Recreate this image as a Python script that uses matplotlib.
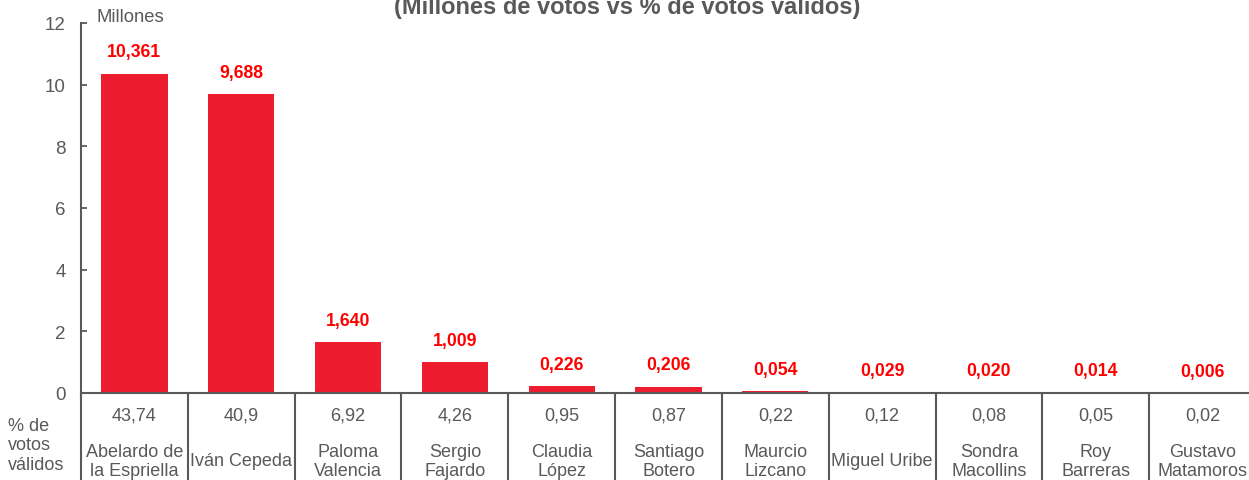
import numpy as np
import matplotlib.pyplot as plt
from matplotlib.transforms import blended_transform_factory

# Datos: votos (millones) y % de votos validos por candidato
candidatos = ["Abelardo de\nla Espriella", "Iván Cepeda", "Paloma\nValencia",
              "Sergio\nFajardo", "Claudia\nLópez", "Santiago\nBotero",
              "Maurcio\nLizcano", "Miguel Uribe", "Sondra\nMacollins",
              "Roy\nBarreras", "Gustavo\nMatamoros"]
votos = [10.361, 9.688, 1.640, 1.009, 0.226, 0.206, 0.054, 0.029, 0.020, 0.014, 0.006]
etiquetas_votos = ["10,361", "9,688", "1,640", "1,009", "0,226", "0,206",
                   "0,054", "0,029", "0,020", "0,014", "0,006"]
pct_validos = ["43,74", "40,9", "6,92", "4,26", "0,95", "0,87",
               "0,22", "0,12", "0,08", "0,05", "0,02"]

GRIS = "#595959"
ROJO = "#ED1C2E"

plt.rcParams["font.family"] = ["Liberation Sans", "DejaVu Sans"]

fig = plt.figure(figsize=(12.49, 4.81), dpi=100)
ax = fig.add_axes([81 / 1249, 1 - 394 / 481, (1256 - 81) / 1249, (394 - 24) / 481])

x = np.arange(len(votos))
ax.bar(x, votos, width=0.62, color=ROJO, zorder=2)

for xi, v, lab in zip(x, votos, etiquetas_votos):
    ax.annotate(lab, (xi, v), xytext=(0, 9.5), textcoords="offset points",
                ha="center", va="bottom", color="#FF0000",
                fontsize=12.7, fontweight="bold")

ax.set_xlim(-0.5, len(votos) - 0.5)
ax.set_ylim(0, 12)
ax.set_yticks(range(0, 13, 2))
ax.tick_params(axis="y", direction="in", length=4, width=1.3, color=GRIS,
               labelcolor=GRIS, labelsize=13.5, pad=11)

# separadores de la tabla inferior
ax.set_xticks(np.arange(len(votos) + 1) - 0.5)
ax.set_xticklabels([])
ax.tick_params(axis="x", direction="out", length=64, width=1.5, color=GRIS)

for s in ["top", "right"]:
    ax.spines[s].set_visible(False)
for s in ["left", "bottom"]:
    ax.spines[s].set_color(GRIS)
    ax.spines[s].set_linewidth(1.5)

tr = blended_transform_factory(ax.transData, fig.transFigure)
for xi, p, c in zip(x, pct_validos, candidatos):
    ax.text(xi, 1 - 416 / 481, p, transform=tr, ha="center", va="center",
            fontsize=13, color=GRIS)
    ax.text(xi, 1 - 462 / 481, c, transform=tr, ha="center", va="center",
            fontsize=13, color=GRIS, linespacing=1.2)

fig.text(8 / 1249, 1 - 446 / 481, "% de\nvotos\nválidos", ha="left", va="center",
         fontsize=13, color=GRIS, linespacing=1.2)
fig.text(96 / 1249, 1 - 17 / 481, "Millones", ha="left", va="center",
         fontsize=13.3, color=GRIS)
fig.text(627 / 1249, 1 - 14 / 481, "(Millones de votos vs % de votos válidos)",
         ha="center", va="baseline", fontsize=17, fontweight="bold", color=GRIS)

plt.savefig("out.png", dpi=100)
